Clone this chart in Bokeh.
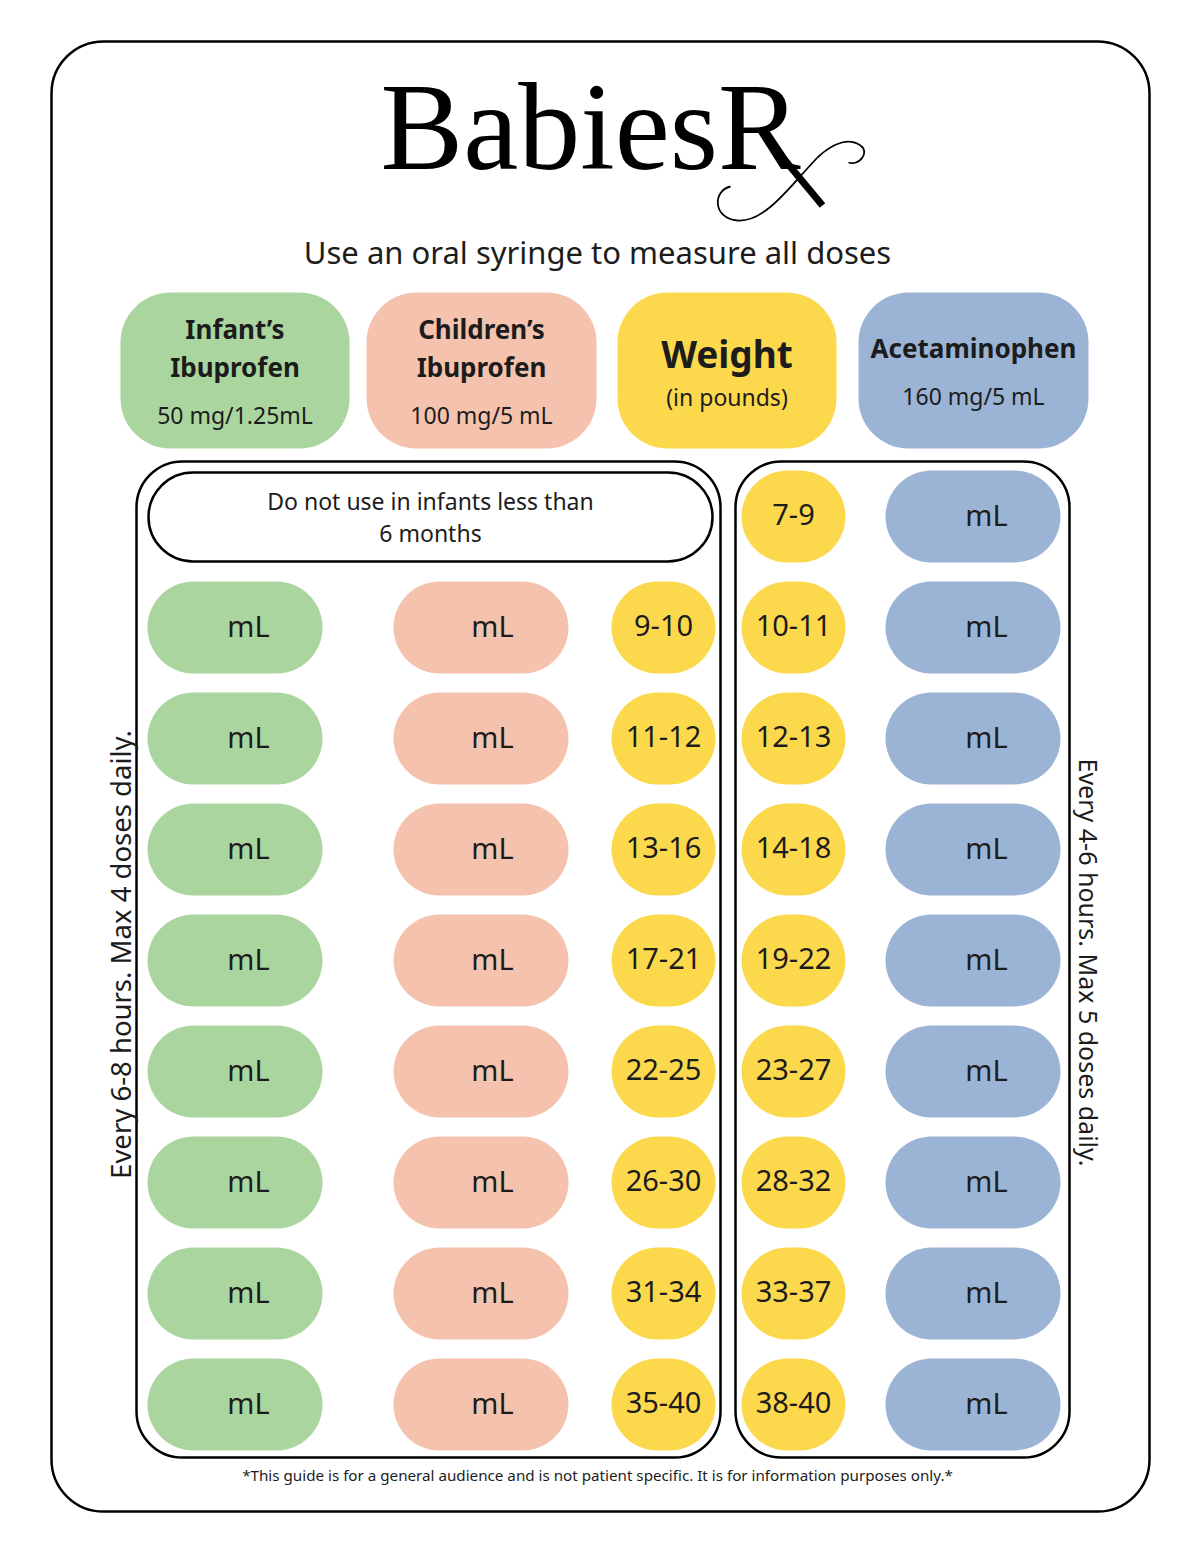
from bokeh.plotting import figure
from bokeh.models import Range1d
from bokeh.core.properties import value
from bokeh.embed import file_html
from bokeh.resources import INLINE
import math

# ---------------- data ----------------
title_text = "BabiesR"
subtitle = "Use an oral syringe to measure all doses"
header_titles = [["Infant\u2019s", "Ibuprofen"], ["Children\u2019s", "Ibuprofen"], ["Weight"], ["Acetaminophen"]]
header_subs = ["50 mg/1.25mL", "100 mg/5 mL", "(in pounds)", "160 mg/5 mL"]
warning_lines = ["Do not use in infants less than", "6 months"]
ibuprofen_weights = ["9-10", "11-12", "13-16", "17-21", "22-25", "26-30", "31-34", "35-40"]
acetaminophen_weights = ["7-9", "10-11", "12-13", "14-18", "19-22", "23-27", "28-32", "33-37", "38-40"]
dose_unit = "mL"
left_note = "Every 6-8 hours. Max 4 doses daily."
right_note = "Every 4-6 hours. Max 5 doses daily."
footer = "*This guide is for a general audience and is not patient specific. It is for information purposes only.*"

GREEN = "#abd59f"
SALMON = "#f5c3ad"
YELLOW = "#fcd94c"
BLUE = "#9bb3d4"
INK = "#1c1c1c"
FONT = value("Noto Sans")

W, H = 1184, 1537
p = figure(width=W, height=H, x_range=Range1d(0, W), y_range=Range1d(H, 0),
           output_backend="svg", toolbar_location=None, min_border=0,
           x_axis_type=None, y_axis_type=None)
p.grid.visible = False
p.outline_line_color = None
p.background_fill_color = "white"
p.border_fill_color = "white"

def rbox(l, r, t, b, rad, fill=None, line=None, lw=1.0):
    p.quad(left=[l], right=[r], top=[t], bottom=[b], border_radius=rad,
           fill_color=fill, fill_alpha=1 if fill else 0,
           line_color=line, line_width=lw, line_alpha=1 if line else 0)

def txt(x, y, s, size, bold=False, color=INK, angle=0, font=FONT, align="center"):
    p.text(x=[x], y=[y - 2], text=[s], text_font=font, text_font_size=f"{size}px",
           text_font_style="bold" if bold else "normal", text_color=color,
           text_align=align, text_baseline="middle", angle=angle)

# outer frame
rbox(51, 1149, 41, 1511, 52, line="black", lw=2.5)

# logo
p.text(x=[380], y=[127], text=[title_text], text_font=value("Liberation Serif"),
       text_font_size="124px", text_color="black", text_align="left", text_baseline="middle")
p.line(x=[778, 822], y=[152, 205], line_color="black", line_width=7)
p.bezier(x0=[730], y0=[186], x1=[737], y1=[220], cx0=[712], cy0=[190], cx1=[712], cy1=[218],
         line_color="black", line_width=1.8)
p.bezier(x0=[737], y0=[220], x1=[817], y1=[157], cx0=[765], cy0=[222], cx1=[790], cy1=[185],
         line_color="black", line_width=1.8)
p.bezier(x0=[817], y0=[157], x1=[860], y1=[145], cx0=[835], cy0=[140], cx1=[850], cy1=[138],
         line_color="black", line_width=1.8)
p.bezier(x0=[860], y0=[145], x1=[848], y1=[162], cx0=[870], cy0=[152], cx1=[858], cy1=[166],
         line_color="black", line_width=1.8)

txt(597, 253, subtitle, 31)

# header pills
hx = [(120, 349), (366, 596), (617, 836), (858, 1088)]
hcol = [GREEN, SALMON, YELLOW, BLUE]
for i, ((l, r), c) in enumerate(zip(hx, hcol)):
    rbox(l, r, 292, 448, 50, fill=c)
    cx = (l + r) / 2
    lines = header_titles[i]
    if len(lines) == 2:
        txt(cx, 330, lines[0], 26, bold=True)
        txt(cx, 368, lines[1], 26, bold=True)
        txt(cx, 416, header_subs[i], 23)
    elif lines[0] == "Weight":
        txt(cx, 355, lines[0], 37, bold=True)
        txt(cx, 398, header_subs[i], 23)
    else:
        txt(cx, 349, lines[0], 26, bold=True)
        txt(cx, 397, header_subs[i], 23)

# group boxes
rbox(136, 720, 461, 1457, 46, line="black", lw=2.5)
rbox(735, 1069, 461, 1457, 46, line="black", lw=2.5)

# warning pill
rbox(148, 712, 472, 561, 45, fill="white", line="black", lw=2.5)
txt(430, 502, warning_lines[0], 23)
txt(430, 534, warning_lines[1], 23)

# rows
row0, step, half = 627, 111, 46
for i, w in enumerate(ibuprofen_weights):
    yc = row0 + i * step
    rbox(147, 322, yc - half, yc + half, half, fill=GREEN)
    rbox(393, 568, yc - half, yc + half, half, fill=SALMON)
    rbox(611, 715, yc - half, yc + half, half, fill=YELLOW)
    txt(248, yc, dose_unit, 29)
    txt(492, yc, dose_unit, 29)
    txt(663, yc, w, 29)

for i, w in enumerate(acetaminophen_weights):
    yc = row0 - step + i * step
    rbox(741, 845, yc - half, yc + half, half, fill=YELLOW)
    rbox(885, 1060, yc - half, yc + half, half, fill=BLUE)
    txt(793, yc, w, 29)
    txt(986, yc, dose_unit, 29)

# side notes
txt(120, 956, left_note, 27.5, angle=math.pi / 2)
txt(1088, 964, right_note, 25, angle=-math.pi / 2)

# footer
txt(597, 1476, footer, 15.2)

open("out.html", "w").write(file_html(p, INLINE))
